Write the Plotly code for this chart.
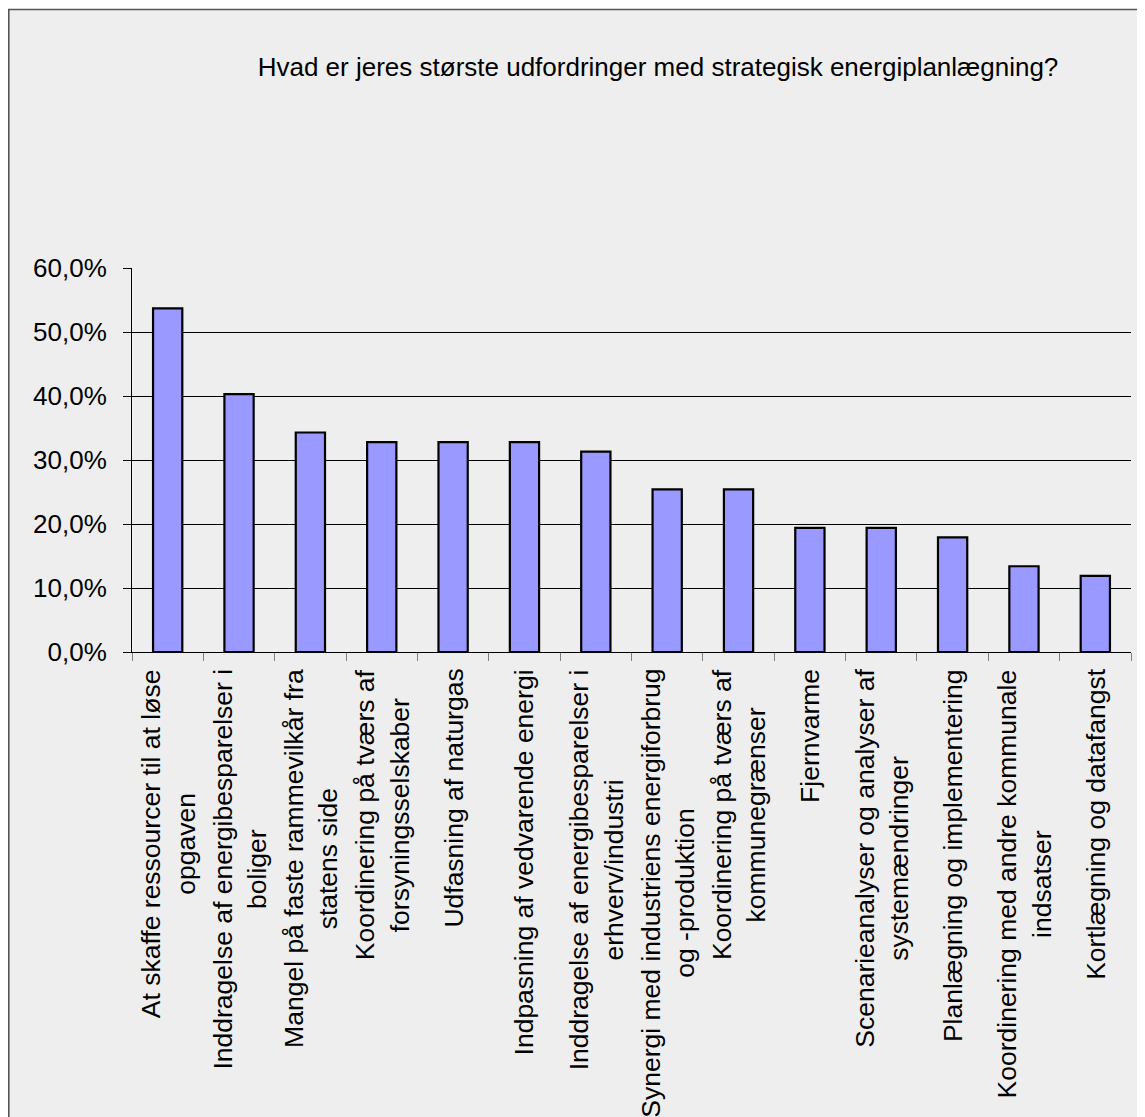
import plotly.graph_objects as go

categories = [
    "At skaffe ressourcer til at løse opgaven",
    "Inddragelse af energibesparelser i boliger",
    "Mangel på faste rammevilkår fra statens side",
    "Koordinering på tværs af forsyningsselskaber",
    "Udfasning af naturgas",
    "Indpasning af vedvarende energi",
    "Inddragelse af energibesparelser i erhverv/industri",
    "Synergi med industriens energiforbrug og -produktion",
    "Koordinering på tværs af kommunegrænser",
    "Fjernvarme",
    "Scenarieanalyser og analyser af systemændringer",
    "Planlægning og implementering",
    "Koordinering med andre kommunale indsatser",
    "Kortlægning og datafangst",
]

tick_labels = [
    "At skaffe ressourcer til at løse<br>opgaven",
    "Inddragelse af energibesparelser i<br>boliger",
    "Mangel på faste rammevilkår fra<br>statens side",
    "Koordinering på tværs af<br>forsyningsselskaber",
    "Udfasning af naturgas",
    "Indpasning af vedvarende energi",
    "Inddragelse af energibesparelser i<br>erhverv/industri",
    "Synergi med industriens energiforbrug<br>og -produktion",
    "Koordinering på tværs af<br>kommunegrænser",
    "Fjernvarme",
    "Scenarieanalyser og analyser af<br>systemændringer",
    "Planlægning og implementering",
    "Koordinering med andre kommunale<br>indsatser",
    "Kortlægning og datafangst",
]

values = [0.537, 0.403, 0.343, 0.328, 0.328, 0.328, 0.313,
          0.254, 0.254, 0.194, 0.194, 0.179, 0.134, 0.119]

y_ticks = [0.0, 0.1, 0.2, 0.3, 0.4, 0.5, 0.6]

title_text = "Hvad er jeres største udfordringer med strategisk energiplanlægning?"

# page body has an 8px margin, so the figure is sized to fill the rest
W, H = 1137, 1109
ML, MR, MT, MB = 124, 14, 260, 465
PW = W - ML - MR
PH = H - MT - MB

FONT = "Liberation Sans, Arial, sans-serif"

fig = go.Figure()
fig.add_trace(go.Bar(
    x=categories,
    y=values,
    marker=dict(color="#9999ff", line=dict(color="#000000", width=2.2)),
    hoverinfo="x+y",
))


def px_x(p):
    return (p - ML) / PW


def px_y(p):
    return 1 - (p - MT) / PH


# frame around the chart area
fig.add_shape(type="rect", xref="paper", yref="paper", layer="below",
              x0=px_x(0.8), x1=px_x(W + 20), y0=px_y(H + 20), y1=px_y(1.5),
              fillcolor="#eeeeee", line=dict(color="#555555", width=1.6))

for cat, lab in zip(categories, tick_labels):
    fig.add_annotation(x=cat, xref="x", y=0, yref="paper",
                       text=lab, textangle=-90, showarrow=False,
                       xanchor="center", yanchor="top", yshift=-15,
                       align="center",
                       font=dict(family=FONT, size=26.5, color="#000000"))

fig.update_layout(
    width=W, height=H,
    margin=dict(l=ML, r=MR, t=MT, b=MB, pad=0),
    paper_bgcolor="#ffffff",
    plot_bgcolor="rgba(0,0,0,0)",
    separators=",.",
    showlegend=False,
    bargap=0.59,
    font=dict(family=FONT, color="#000000"),
    title=dict(text=title_text, xref="container", yref="container",
               x=650 / W, xanchor="center", y=1 - 59 / H, yanchor="middle",
               font=dict(family=FONT, size=26, color="#000000")),
    xaxis=dict(
        type="category",
        showticklabels=False,
        ticks="outside", ticklen=8, tickcolor="#808080", tickwidth=1,
        tickson="boundaries",
        showline=True, linecolor="#000000", linewidth=1,
        showgrid=False, zeroline=False,
    ),
    yaxis=dict(
        range=[0, 0.6],
        tickvals=y_ticks,
        tickformat=".1%",
        ticks="outside", ticklen=8, tickcolor="#000000", tickwidth=1,
        ticklabelstandoff=11,
        showline=True, linecolor="#000000", linewidth=1,
        showgrid=True, gridcolor="#000000", gridwidth=1,
        zeroline=False,
        tickfont=dict(family=FONT, size=26, color="#000000"),
    ),
)

fig.write_html("out.html")
